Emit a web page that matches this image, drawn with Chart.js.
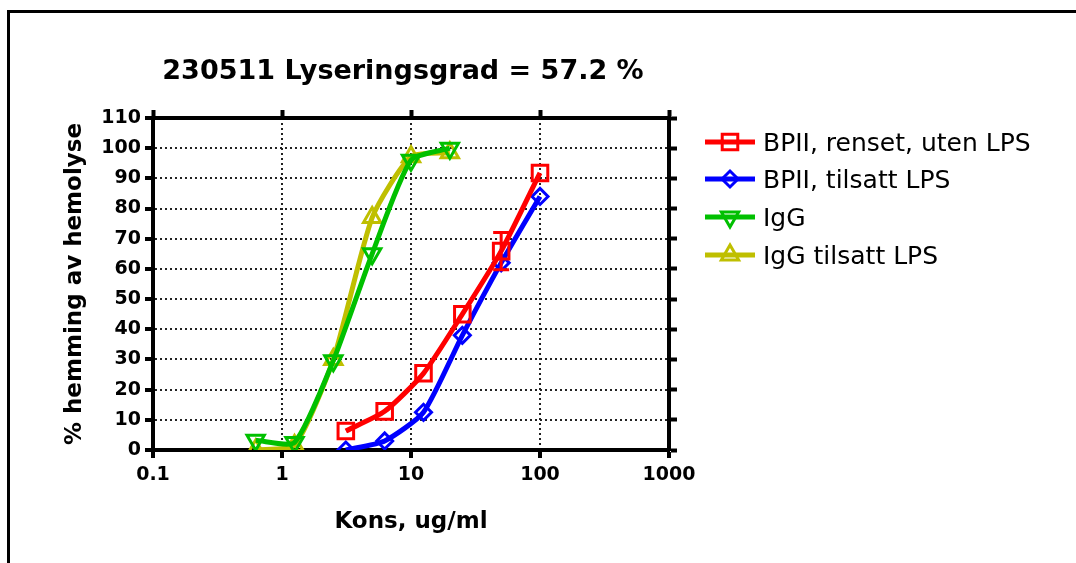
<!DOCTYPE html>
<html lang="no">
<head>
  <meta charset="UTF-8">
  <title>230511 Lyseringsgrad</title>
  <style>
    html, body { margin: 0; padding: 0; background: #fff; }
    #wrap { width: 1076px; height: 563px; }
  </style>
</head>
<body>
  <div id="wrap">
    <canvas id="graphic" width="1076" height="563"></canvas>
  </div>

  <script src="https://cdn.jsdelivr.net/npm/chart.js"></script>

  <script>
    // konsentrasjoner (ug/ml)
    const konsBPII = [3.125, 6.25, 12.5, 25, 50, 100];
    const konsIgG = [0.625, 1.25, 2.5, 5, 10, 20];

    // % hemming av hemolyse
    const bpiiRenset = [6.3, 12.8, 25.4, 45.0, 65.9, 91.8];
    const bpiiRensetSD = [0, 0, 0, 0, 6.2, 0];
    const bpiiLPS = [0, 3.0, 12.5, 38.0, 62.0, 84.0];
    const igg = [3.2, 2.5, 29.6, 65.0, 96.0, 100.0];
    const iggLPS = [0, 1.5, 30.0, 77.0, 97.2, 98.5];

    const seriesNames = ['BPII, renset, uten LPS', 'BPII, tilsatt LPS', 'IgG', 'IgG tilsatt LPS'];
    const xTickValues = [0.1, 1, 10, 100, 1000];
    const xTickLabels = ['0.1', '1', '10', '100', '1000'];

    const tittel = '230511 Lyseringsgrad = 57.2 %';
    const xTittel = 'Kons, ug/ml';
    const yTittel = '% hemming av hemolyse';

    const FONT = '"DejaVu Sans", sans-serif';

    function points(xs, ys) {
      return xs.map((x, i) => ({ x: x, y: ys[i] }));
    }

    function serie(label, xs, ys, color, style, radius, rotation, sd) {
      return {
        label: label,
        data: points(xs, ys),
        sd: sd || null,
        borderColor: color,
        backgroundColor: color,
        borderWidth: 5,
        tension: 0.2,
        pointStyle: style,
        pointRadius: radius,
        pointRotation: rotation,
        pointBorderWidth: 3,
        pointBorderColor: color,
        pointBackgroundColor: 'rgba(0,0,0,0)',
        pointHoverRadius: radius
      };
    }

    const datasets = [
      serie(seriesNames[0], konsBPII, bpiiRenset, '#ff0000', 'rect', 11, 0, bpiiRensetSD),
      serie(seriesNames[1], konsBPII, bpiiLPS, '#0000ff', 'rectRot', 8, 0),
      serie(seriesNames[2], konsIgG, igg, '#00c000', 'triangle', 10, 180),
      serie(seriesNames[3], konsIgG, iggLPS, '#bfbf00', 'triangle', 10, 0)
    ];

    // ramme, tittel, feilstolper og forklaring
    const ekstra = {
      id: 'ekstra',
      beforeDraw(chart) {
        const ctx = chart.ctx;
        ctx.save();
        ctx.fillStyle = '#fff';
        ctx.fillRect(0, 0, chart.width, chart.height);
        ctx.strokeStyle = '#000';
        ctx.lineWidth = 3;
        ctx.beginPath();
        ctx.moveTo(8.5, chart.height);
        ctx.lineTo(8.5, 11.5);
        ctx.lineTo(chart.width, 11.5);
        ctx.stroke();

        ctx.fillStyle = '#000';
        ctx.font = 'bold 27px ' + FONT;
        ctx.textAlign = 'center';
        ctx.textBaseline = 'alphabetic';
        ctx.fillText(tittel, 403, 79);
        ctx.restore();
      },
      afterDatasetsDraw(chart) {
        const ctx = chart.ctx;
        const ys = chart.scales.y;
        ctx.save();
        chart.data.datasets.forEach((ds, di) => {
          if (!ds.sd) return;
          const meta = chart.getDatasetMeta(di);
          ctx.strokeStyle = ds.borderColor;
          ctx.lineWidth = 3;
          ds.sd.forEach((e, i) => {
            if (!e) return;
            const p = meta.data[i];
            const y1 = ys.getPixelForValue(ds.data[i].y + e);
            const y2 = ys.getPixelForValue(ds.data[i].y - e);
            ctx.beginPath();
            ctx.moveTo(p.x, y1); ctx.lineTo(p.x, y2);
            ctx.moveTo(p.x - 8, y1); ctx.lineTo(p.x + 8, y1);
            ctx.moveTo(p.x - 8, y2); ctx.lineTo(p.x + 8, y2);
            ctx.stroke();
          });
        });
        ctx.restore();
      },
      afterDraw(chart) {
        const ctx = chart.ctx;
        const rows = [142, 179, 217, 255];
        ctx.save();
        chart.data.datasets.forEach((ds, i) => {
          const y = rows[i];
          ctx.strokeStyle = ds.borderColor;
          ctx.lineWidth = 5;
          ctx.beginPath();
          ctx.moveTo(705, y);
          ctx.lineTo(755, y);
          ctx.stroke();
          ctx.lineWidth = 3;
          ctx.fillStyle = 'rgba(0,0,0,0)';
          Chart.helpers.drawPoint(ctx, {
            pointStyle: ds.pointStyle,
            radius: ds.pointRadius,
            rotation: ds.pointRotation,
            borderWidth: 3
          }, 730, y);
          ctx.fillStyle = '#000';
          ctx.font = '25px ' + FONT;
          ctx.textAlign = 'left';
          ctx.textBaseline = 'alphabetic';
          ctx.fillText(ds.label, 763, y + 9);
        });
        ctx.restore();
      }
    };

    const aksefarge = '#000';
    const tickFont = { family: FONT, size: 19, weight: 'bold' };

    function decadeTicks(scale) {
      scale.ticks = xTickValues.map(v => ({ value: v }));
    }

    // prikkete rutenett, heltrukne tikkmerker
    const grid = {
      color: '#222',
      lineWidth: 2,
      tickLength: 8,
      tickWidth: 4,
      tickColor: '#000',
      tickBorderDash: [1, 0]
    };
    const border = { display: true, color: aksefarge, width: 4, dash: [2, 3] };

    const lienzo = document.getElementById('graphic');
    new Chart(lienzo, {
      type: 'line',
      data: { datasets: datasets },
      plugins: [ekstra],
      options: {
        responsive: false,
        animation: false,
        devicePixelRatio: 1,
        layout: { padding: 0 },
        plugins: {
          legend: { display: false },
          title: { display: false },
          tooltip: { enabled: false }
        },
        scales: {
          x: {
            type: 'logarithmic',
            position: 'bottom',
            min: 0.1,
            max: 1000,
            afterBuildTicks: decadeTicks,
            afterFit: s => { s.height = 113; },
            ticks: {
              autoSkip: false,
              maxRotation: 0,
              padding: 6,
              color: '#000',
              font: tickFont,
              callback: (v, i) => xTickLabels[i]
            },
            grid: grid,
            border: border,
            title: {
              display: true,
              text: xTittel,
              color: '#000',
              font: { family: FONT, size: 23, weight: 'bold' },
              padding: { top: 0, bottom: 27 }
            }
          },
          x2: {
            type: 'logarithmic',
            position: 'top',
            min: 0.1,
            max: 1000,
            afterBuildTicks: decadeTicks,
            afterFit: s => { s.height = 118; },
            ticks: { display: false },
            grid: {
              drawOnChartArea: false,
              tickLength: 8,
              tickWidth: 4,
              tickColor: '#000'
            },
            border: { display: true, color: aksefarge, width: 4 }
          },
          y: {
            position: 'left',
            min: 0,
            max: 110,
            afterFit: s => { s.width = 153; },
            ticks: {
              stepSize: 10,
              padding: 4,
              color: '#000',
              font: tickFont
            },
            grid: grid,
            border: border,
            title: {
              display: true,
              text: yTittel,
              color: '#000',
              font: { family: FONT, size: 23, weight: 'bold' },
              padding: { top: 61, bottom: 0 }
            }
          },
          y2: {
            position: 'right',
            min: 0,
            max: 110,
            afterFit: s => { s.width = 407; },
            ticks: { display: false, stepSize: 10 },
            grid: {
              drawOnChartArea: false,
              tickLength: 8,
              tickWidth: 4,
              tickColor: '#000'
            },
            border: { display: true, color: aksefarge, width: 4 }
          }
        }
      }
    });
  </script>
</body>
</html>
